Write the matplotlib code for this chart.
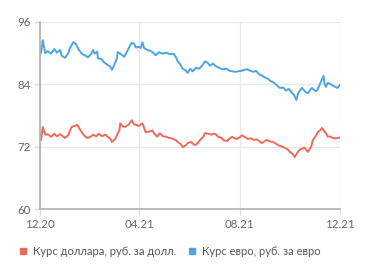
import matplotlib
matplotlib.use("Agg")
import matplotlib.pyplot as plt
from matplotlib.lines import Line2D

# days since 2020-12-01
usd_days = [0, 2, 4, 7, 10, 14, 18, 21, 25, 29, 31, 35, 37, 39, 43, 46, 48, 52, 55, 58,
            61, 65, 69, 72, 76, 80, 83, 86, 88, 92, 94, 97, 98, 101, 104, 108, 111, 112, 115, 117,
            121, 123, 125, 127, 129, 133, 137, 139, 143, 146, 150, 154, 157, 161, 165, 168, 172, 174, 178, 180,
            184, 187, 189, 193, 195, 199, 201, 205, 209, 211, 214, 217, 221, 224, 228, 231, 234, 237, 240, 243,
            246, 249, 253, 257, 260, 264, 268, 270, 274, 276, 280, 284, 287, 291, 295, 299, 302, 304, 308, 310,
            313, 316, 320, 322, 326, 330, 332, 335, 338, 341, 343, 346, 348, 350, 352, 356, 359, 363, 365]
usd = [73.1, 73.4, 75.8, 74.3, 74.4, 73.9, 74.5, 74.0, 74.4, 73.9, 73.7, 74.2, 75.1, 75.8, 76.0, 76.2, 75.6, 74.6, 74.0, 73.7,
       73.8, 74.3, 74.0, 74.5, 74.0, 74.3, 73.9, 73.5, 72.9, 73.5, 74.2, 75.2, 76.5, 75.9, 75.8, 76.2, 76.8, 77.1, 76.3, 76.2,
       76.0, 76.3, 76.5, 75.6, 74.8, 74.9, 75.1, 74.6, 73.9, 74.6, 74.0, 73.9, 73.7, 73.6, 73.3, 72.9, 72.4, 71.9, 72.3, 72.7,
       72.9, 72.5, 72.3, 72.8, 73.3, 73.9, 74.6, 74.5, 74.3, 74.5, 74.4, 73.9, 73.7, 73.2, 73.1, 73.6, 73.9, 73.6, 73.5, 73.8,
       74.2, 73.9, 73.5, 73.6, 73.3, 73.4, 72.9, 72.7, 73.1, 73.3, 73.0, 72.9, 72.6, 72.2, 72.0, 71.7, 71.4, 71.0, 70.5, 70.0,
       70.8, 71.4, 71.7, 71.8, 71.0, 72.0, 73.3, 73.9, 74.8, 75.2, 75.6, 74.9, 74.6, 73.9, 74.0, 73.7, 73.6, 73.7, 73.8]

eur_days = [0, 2, 4, 7, 10, 14, 18, 21, 25, 27, 31, 35, 37, 41, 44, 48, 52, 55, 59, 63,
            65, 67, 70, 71, 75, 78, 82, 86, 88, 91, 94, 95, 99, 103, 106, 110, 112, 115, 117, 121,
            123, 125, 127, 131, 134, 139, 141, 145, 149, 154, 159, 163, 166, 168, 171, 174, 178, 180, 183, 186,
            190, 194, 197, 201, 204, 207, 211, 214, 218, 222, 227, 231, 238, 241, 245, 249, 252, 256, 260, 263,
            267, 270, 274, 277, 281, 285, 289, 292, 296, 299, 303, 307, 309, 312, 314, 317, 319, 323, 326, 330,
            331, 335, 337, 340, 341, 345, 346, 348, 350, 355, 358, 362, 365]
eur = [89.6, 90.2, 92.5, 90.0, 90.4, 89.9, 90.8, 90.1, 90.6, 89.5, 89.1, 90.0, 91.0, 92.1, 91.8, 90.6, 89.8, 89.6, 89.2, 89.9,
       90.6, 89.9, 90.3, 89.0, 88.9, 88.3, 87.8, 87.4, 86.8, 87.8, 89.0, 90.2, 89.8, 89.3, 90.2, 91.5, 92.0, 91.8, 91.1, 91.2,
       91.0, 92.1, 91.0, 90.6, 90.5, 90.0, 89.6, 90.2, 89.9, 90.1, 89.8, 89.9, 89.1, 88.4, 87.8, 87.0, 86.6, 86.2, 87.0, 86.5,
       87.2, 87.0, 87.5, 88.4, 88.2, 87.6, 88.0, 87.5, 87.2, 86.9, 87.0, 86.6, 86.4, 86.5, 86.6, 86.8, 86.9, 86.6, 86.4, 86.6,
       85.9, 85.7, 85.3, 85.1, 84.6, 84.3, 83.7, 83.3, 83.4, 82.8, 83.1, 82.3, 82.0, 81.0, 82.2, 83.0, 83.3, 82.5, 82.3, 83.2,
       83.3, 82.7, 82.8, 83.8, 84.2, 85.6, 84.2, 83.5, 84.3, 83.9, 83.6, 83.3, 83.9]

tick_days = [0, 121, 243, 365]
tick_labels = ["12.20", "04.21", "08.21", "12.21"]
y_ticks = [60, 72, 84, 96]

red = "#ef6a5a"
blue = "#4ca5e1"
plt.rcParams["font.family"] = ["Lato", "DejaVu Sans"]

fig = plt.figure(figsize=(3.71, 2.75), dpi=100)
ax = fig.add_axes([0.1065, 0.24, 0.81, 0.68])

ax.plot(usd_days, usd, color=red, lw=1.4, solid_joinstyle="round")
ax.plot(eur_days, eur, color=blue, lw=1.4, solid_joinstyle="round")

ax.set_xlim(0, 365)
ax.set_ylim(60, 96)
ax.set_xticks(tick_days)
ax.set_xticklabels(tick_labels)
ax.set_yticks(y_ticks)
ax.grid(True, color="#e8e8e8", lw=1)
ax.set_axisbelow(True)
for s in ["top", "right"]:
    ax.spines[s].set_visible(False)
ax.spines["left"].set_color("#b0b0b0")
ax.spines["bottom"].set_color("#b0b0b0")
ax.spines["left"].set_linewidth(1.2)
ax.spines["bottom"].set_linewidth(1.2)
ax.tick_params(axis="both", colors="#dddddd", labelcolor="#666666", labelsize=8.3, length=4, width=1)
ax.tick_params(axis="x", pad=3)
ax.tick_params(axis="y", pad=2)

handles = [Line2D([], [], marker="s", ls="", color=red, markersize=5),
           Line2D([], [], marker="s", ls="", color=blue, markersize=5)]
leg = fig.legend(handles, ["Курс доллара, руб. за долл.", "Курс евро, руб. за евро"],
                 loc="center", bbox_to_anchor=(0.455, 0.085), ncol=2, frameon=False,
                 fontsize=8.0, handletextpad=0.4, columnspacing=0.9, handlelength=1)
for t in leg.get_texts():
    t.set_color("#555555")

fig.savefig("out.png", dpi=100)
